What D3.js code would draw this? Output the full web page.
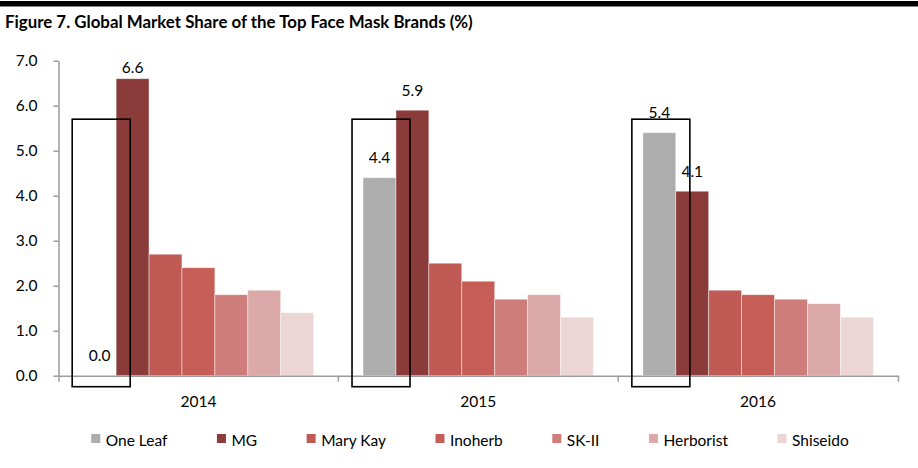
<!DOCTYPE html>
<html><head><meta charset="utf-8">
<script src="https://cdn.jsdelivr.net/npm/d3@7"></script>
<style>
body{margin:0;background:#fff}
svg{display:block}
text{font-family:Lato,"Open Sans",sans-serif;fill:#000}
</style>
</head><body>
<svg id="c" width="918" height="468"></svg>
<script>
const title = "Figure 7. Global Market Share of the Top Face Mask Brands (%)";
const years = ["2014", "2015", "2016"];
const brands = ["One Leaf", "MG", "Mary Kay", "Inoherb", "SK-II", "Herborist", "Shiseido"];
const oneLeaf   = [0.0, 4.4, 5.4];
const mg        = [6.6, 5.9, 4.1];
const maryKay   = [2.7, 2.5, 1.9];
const inoherb   = [2.4, 2.1, 1.8];
const skii      = [1.8, 1.7, 1.7];
const herborist = [1.9, 1.8, 1.6];
const shiseido  = [1.4, 1.3, 1.3];
const colors = ["#adadad", "#8b3b39", "#bf5a54", "#c75d57", "#cf7d7a", "#dba9a8", "#ebd5d5"];
const yTicks = [0, 1, 2, 3, 4, 5, 6, 7];
const labelledBrands = ["One Leaf", "MG"];
const highlightTop = 5.7; // value level of the top edge of the highlight boxes

const seriesValues = [oneLeaf, mg, maryKay, inoherb, skii, herborist, shiseido];
const table = years.map((yr, i) => ({
  year: yr,
  items: brands.map((b, j) => ({brand: b, value: seriesValues[j][i], color: colors[j]}))
}));

const svg = d3.select("#c");
const FS = 15.5;

// top black rule
svg.append("rect").attr("x", 0).attr("y", 1).attr("width", 918).attr("height", 5.5).attr("fill", "#000");

// title fitted to the reference width
const t = svg.append("text").attr("x", 5).attr("y", 27.5)
  .attr("font-weight", "bold").attr("font-size", 16).text(title);
const tw = t.node().getComputedTextLength();
t.attr("font-size", 16 * 468 / tw);

const x0 = d3.scaleBand().domain(years).range([58.5, 898]).padding(0);
const x1 = d3.scaleBand().domain(brands).range([0, x0.bandwidth()]).paddingInner(0).paddingOuter(0.75);
const y = d3.scaleLinear().domain([0, 7]).range([375.7, 60.7]);

// bars
const groups = svg.append("g").selectAll("g").data(table).join("g")
  .attr("transform", d => `translate(${x0(d.year)},0)`);
groups.selectAll("rect").data(d => d.items).join("rect")
  .attr("x", d => x1(d.brand))
  .attr("y", d => y(d.value))
  .attr("width", x1.bandwidth())
  .attr("height", d => y(0) - y(d.value))
  .attr("fill", d => d.color)
  .attr("stroke", "#ffffff").attr("stroke-opacity", 0.55).attr("stroke-width", 0.8);

// value labels
groups.selectAll("text.val").data(d => d.items.filter(it => labelledBrands.includes(it.brand))).join("text")
  .attr("class", "val")
  .attr("x", d => x1(d.brand) + x1.bandwidth() / 2)
  .attr("y", d => Math.max(y(d.value) - 20, y(7) + 6.5))
  .attr("dy", "0.35em")
  .attr("text-anchor", "middle")
  .attr("font-size", FS)
  .text(d => d3.format(".1f")(d.value));

// axes
const axisColor = "#9b9b9b";
const yAxis = svg.append("g").attr("transform", "translate(58.5,0)")
  .call(d3.axisLeft(y).tickValues(yTicks).tickFormat(d3.format(".1f")).tickSize(5).tickSizeOuter(0).tickPadding(16));
yAxis.selectAll("text").attr("font-size", FS).attr("font-family", "Lato,'Open Sans',sans-serif").attr("fill", "#000");

const xAxis = svg.append("g").attr("transform", `translate(0,${y(0)})`)
  .call(d3.axisBottom(x0).tickSize(0).tickSizeOuter(6).tickPadding(20));
xAxis.selectAll("text").attr("font-size", FS).attr("font-family", "Lato,'Open Sans',sans-serif").attr("fill", "#000");
xAxis.selectAll("line.bound").data(years.slice(1)).join("line").attr("class", "bound")
  .attr("x1", d => x0(d)).attr("x2", d => x0(d)).attr("y1", 0).attr("y2", 6);

[yAxis, xAxis].forEach(a => {
  a.select(".domain").attr("stroke", axisColor).attr("stroke-width", 1.5);
  a.selectAll("line").attr("stroke", axisColor).attr("stroke-width", 1.5);
});

// highlight boxes around One Leaf
svg.append("g").selectAll("rect").data(years).join("rect")
  .attr("x", d => x0(d) + x1("One Leaf") - 11)
  .attr("y", y(highlightTop))
  .attr("width", 58)
  .attr("height", y(0) + 11 - y(highlightTop))
  .attr("fill", "none").attr("stroke", "#000").attr("stroke-width", 1.6);

// legend
const leg = svg.append("g");
let cx = 0;
brands.forEach((b, i) => {
  const it = leg.append("g").attr("transform", `translate(${cx},0)`);
  it.append("rect").attr("x", 0).attr("y", 434).attr("width", 9).attr("height", 9).attr("fill", colors[i]);
  const tx = it.append("text").attr("x", 14.5).attr("y", 446).attr("font-size", FS).text(b);
  const w = tx.node().getComputedTextLength();
  cx += 14.5 + w + (i < brands.length - 1 ? 49.5 : 0);
});
leg.attr("transform", `translate(${470 - cx / 2},0)`);
</script>
</body></html>
